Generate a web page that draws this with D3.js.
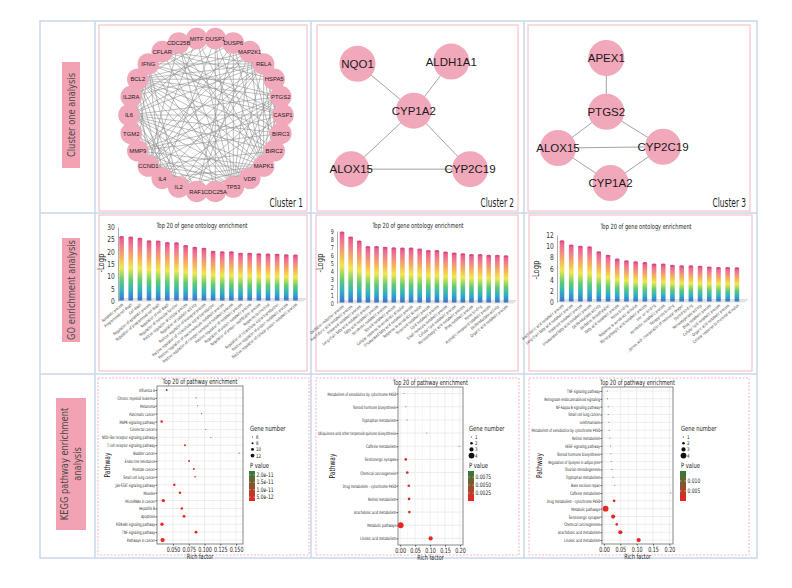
<!DOCTYPE html>
<html><head><meta charset="utf-8">
<script src="https://cdn.jsdelivr.net/npm/d3@7"></script>
<style>
body{margin:0;background:#fff}
svg{display:block}
</style>
</head><body>
<svg id="c" width="792" height="588"></svg>
<script>
// ---------------- DATA ----------------
const rowLabelLines = [["Cluster one analysis"], ["GO enrichment analysis"], ["KEGG pathway enrichment", "analysis"]];
const clusterTitles = ["Cluster 1", "Cluster 2", "Cluster 3"];

const cluster1Genes = ["MITF","DUSP1","DUSP6","MAP2K1","RELA","HSPA5","PTGS2","CASP1","BIRC3","BIRC2","MAPK1","VDR","TP53","CDC25A","RAF1","IL2","IL4","CCND1","MMP9","TGM2","IL6","IL2RA","BCL2","IFNG","CFLAR","CDC25B"];
// adjacency by index (node:neighbours)
const cluster1Adjacency = [
  "0:3,10,12,17,22,25", "1:3,4,7,10,12,13,16,20,22", "2:3,10,12,14,17,21",
  "3:4,9,10,12,14,17,18,20,22", "4:5,6,7,8,9,10,12,15,16,17,18,20,21,22,23,24",
  "5:7,9,10,12,22,24", "6:7,10,12,15,16,17,18,20,22,23", "7:8,9,10,12,15,18,20,22,23,24",
  "8:9,10,12,18,20,22,24", "9:10,12,17,20,22,24", "10:11,12,13,14,15,16,17,18,20,22,23,25",
  "11:12,17,20,22", "12:13,14,15,17,18,19,20,22,23,24,25", "13:14,17,25", "14:17,18,20,22",
  "15:16,17,18,20,21,22,23", "16:17,18,20,21,22,23", "17:18,20,22,25", "18:19,20,22,23",
  "19:20,22", "20:21,22,23,24", "21:22,23", "22:23,24", "23:24"
];
const cluster2Genes = ["NQO1","ALDH1A1","CYP1A2","ALOX15","CYP2C19"];
const cluster2Edges = [["NQO1","CYP1A2"],["ALDH1A1","CYP1A2"],["CYP1A2","ALOX15"],["CYP1A2","CYP2C19"],["ALOX15","CYP2C19"]];
const cluster3Genes = ["APEX1","PTGS2","ALOX15","CYP2C19","CYP1A2"];
const cluster3Edges = [["APEX1","PTGS2"],["PTGS2","ALOX15"],["PTGS2","CYP2C19"],["ALOX15","CYP2C19"],["ALOX15","CYP1A2"],["CYP2C19","CYP1A2"]];

const goTitle = "Top 20 of gene ontology enrichment";
const goYLabel = "-Logp";
const go1Terms = ["Apoptotic process","Programmed cell death","Cell death","Regulation of apoptotic process","Regulation of programmed cell death","Regulation of cell death","Regulation of molecular function","Positive regulation of cellular process","Regulation of catalytic activity","Positive regulation of biological process","Positive regulation of intracellular signal transduction","Positive regulation of macromolecule metabolic process","Positive regulation of nitrogen compound metabolic process","Positive regulation of metabolic process","Regulation of protein metabolic process","Regulation of protein modification process","Response to chemical","Regulation of intracellular signal transduction","Positive regulation of protein metabolic process","Positive regulation of cellular protein metabolic process"];
const go1Values = [25.9,25.7,25.2,24.2,24.1,23.5,23.4,22.3,21.6,21.2,20.0,19.8,19.8,19.2,19.2,19.0,18.9,18.8,18.5,18.4];
const go1Ticks = [0,5,10,15,20,25,30];
const go2Terms = ["Oxidation-reduction process","Arachidonic acid metabolic process","Icosanoid metabolic process","Long-chain fatty acid metabolic process","Fatty acid metabolic process","Xenobiotic metabolic process","Steroid metabolic process","Cellular response to xenobiotic stimulus","Unsaturated fatty acid metabolic process","Response to xenobiotic stimulus","Terpenoid metabolic process","Lipid metabolic process","Small molecule metabolic process","Cellular lipid metabolic process","Monocarboxylic acid metabolic process","Drug metabolic process","Heme binding","Aromatic compound catabolic process","Oxidoreductase activity","Organic acid metabolic process"];
const go2Values = [8.8,8.2,7.7,7.0,7.0,6.9,6.85,6.8,6.8,6.7,6.5,6.5,6.3,6.2,6.1,6.0,6.0,5.9,5.9,5.85];
const go2Ticks = [0,1,2,3,4,5,6,7,8,9];
const go3Terms = ["Arachidonic acid metabolic process","Long-chain fatty acid metabolic process","Icosanoid metabolic process","Unsaturated fatty acid metabolic process","Oxidoreductase activity","Oxidative demethylation","Fatty acid metabolic process","Heme binding","Response to xenobiotic stimulus","Monocarboxylic acid metabolic process","Iron ion binding","Xenobiotic metabolic process","Tetrapyrrole binding","...genes, with incorporation of molecular oxygen","Steroid binding","Monooxygenase activity","Drug metabolic process","Cellular lipid metabolic process","Organic acid metabolic process","Cellular response to chemical stimulus"];
const go3Values = [10.9,10.1,9.9,9.8,8.9,8.3,7.6,7.3,7.1,7.0,6.7,6.7,6.5,6.4,6.4,6.3,6.2,6.1,6.1,6.05];
const go3Ticks = [0,2,4,6,8,10,12];

const keggTitle = "Top 20 of pathway enrichment";
const k1Pathways = ["Influenza A","Chronic myeloid leukemia","Melanoma","Pancreatic cancer","MAPK signaling pathway","Colorectal cancer","NOD-like receptor signaling pathway","T cell receptor signaling pathway","Bladder cancer","Endocrine resistance","Prostate cancer","Small cell lung cancer","Jak-STAT signaling pathway","Measles","MicroRNAs in cancer","Hepatitis B","Apoptosis","PI3K-Akt signaling pathway","TNF signaling pathway","Pathways in cancer"];
const k1Rich = [0.040,0.0865,0.089,0.0955,0.032,0.102,0.110,0.069,0.155,0.0755,0.083,0.085,0.052,0.061,0.0346,0.064,0.0675,0.0325,0.0865,0.0335];
const k1Genes = [8,6,6,6,9,6,6,8,6,8,8,7,9,9,11,9,10,11,10,13];
const k1P = [2.25e-11,6e-12,6e-12,6e-12,3e-12,6e-12,6e-12,4e-12,6e-12,4e-12,4e-12,4e-12,3e-12,3e-12,2.5e-12,3e-12,3e-12,2.5e-12,3e-12,2.5e-12];
const k1XTicks = [0.05,0.075,0.1,0.125,0.15];
const k1SizeTicks = [6,8,10,12];
const k1PTicks = [2.0e-11,1.5e-11,1.0e-11,5.0e-12];
const k1PLabels = ["2.0e-11","1.5e-11","1.0e-11","5.0e-12"];

const k2Pathways = ["Metabolism of xenobiotics by cytochrome P450","Steroid hormone biosynthesis","Tryptophan metabolism","Ubiquinone and other terpenoid-quinone biosynthesis","Caffeine metabolism","Serotonergic synapse","Chemical carcinogenesis","Drug metabolism - cytochrome P450","Retinol metabolism","Arachidonic acid metabolism","Metabolic pathways","Linoleic acid metabolism"];
const k2Rich = [0.013,0.019,0.023,0.089,0.197,0.019,0.024,0.029,0.030,0.031,0.002,0.102];
const k2Genes = [1,1,1,1,1,2,2,2,2,2,4,3];
const k2P = [0.0085,0.0078,0.0068,0.0055,0.0030,0.0009,0.0011,0.0013,0.0014,0.0015,0.0003,0.0002];
const k2XTicks = [0,0.05,0.1,0.15,0.2];
const k2SizeTicks = [1,2,3,4];
const k2PTicks = [0.0075,0.0050,0.0025];
const k2PLabels = ["0.0075","0.0050","0.0025"];

const k3Pathways = ["TNF signaling pathway","Retrograde endocannabinoid signaling","NF-kappa B signaling pathway","Small cell lung cancer","Leishmaniasis","Metabolism of xenobiotics by cytochrome P450","Retinol metabolism","VEGF signaling pathway","Steroid hormone biosynthesis","Regulation of lipolysis in adipocytes","Ovarian steroidogenesis","Tryptophan metabolism","Base excision repair","Caffeine metabolism","Drug metabolism - cytochrome P450","Metabolic pathways","Serotonergic synapse","Chemical carcinogenesis","Arachidonic acid metabolism","Linoleic acid metabolism"];
const k3Rich = [0.010,0.011,0.013,0.013,0.015,0.016,0.018,0.020,0.021,0.022,0.024,0.028,0.033,0.204,0.031,0.005,0.028,0.039,0.050,0.106];
const k3Genes = [1,1,1,1,1,1,1,1,1,1,1,1,1,1,2,4,3,2,3,3];
const k3P = [0.0148,0.0145,0.014,0.0135,0.013,0.0125,0.012,0.0115,0.011,0.0105,0.010,0.009,0.008,0.004,0.0016,0.0002,0.0011,0.0012,0.0006,0.0004];
const k3XTicks = [0,0.05,0.1,0.15,0.2];
const k3SizeTicks = [1,2,3,4];
const k3PTicks = [0.010,0.005];
const k3PLabels = ["0.010","0.005"];

// ---------------- STYLE ----------------
const NARROW = '"Liberation Sans Narrow","DejaVu Sans Condensed","Arial Narrow",sans-serif';
const ARIAL = '"Liberation Sans",Arial,sans-serif';
const PINK_NODE = "#f2a8bb";
const PANEL_PINK = "#f1b7c3";
const FRAME = "#c9d6ea";
const SQ = 0.74;

const svg = d3.select("#c");
const defs = svg.append("defs");

function nt(parent, x, y, str, size, opts={}){
  const k = opts.k || SQ;
  const rot = opts.rot ? ` rotate(${opts.rot})` : "";
  return parent.append("text").attr("transform",`translate(${x},${y})${rot} scale(${k},1)`)
    .attr("text-anchor",opts.anchor||"start").attr("font-family",NARROW).attr("font-size",size)
    .attr("fill",opts.fill||"#222").text(str);
}

// ---------------- FRAME ----------------
const fr = svg.append("g").attr("fill","none").attr("stroke",FRAME).attr("stroke-width",1.5);
fr.append("rect").attr("x",40).attr("y",21).attr("width",717).attr("height",537);
[[40,213,757,213],[40,374,757,374],[95,21,95,558],[311,21,311,558],[524,21,524,558]].forEach(l=>{
  fr.append("line").attr("x1",l[0]).attr("y1",l[1]).attr("x2",l[2]).attr("y2",l[3]);
});

const rowBoxes = [[62,62,18,106],[62,238,18,104],[56,398,30,132]];
rowLabelLines.forEach((lines,i)=>{
  const b = rowBoxes[i];
  svg.append("rect").attr("x",b[0]).attr("y",b[1]).attr("width",b[2]).attr("height",b[3]).attr("fill","#f2a2b2");
  const cx = b[0]+b[2]/2, cy = b[1]+b[3]/2;
  lines.forEach((ln,j)=>{
    const off = (j-(lines.length-1)/2)*12.5 + 3.5;
    nt(svg, cx+off, cy, ln, 10.3, {rot:-90, anchor:"middle", k:0.9, fill:"#4a4a4a"});
  });
});

function panel(x0,y0,x1,y1,dashed){
  svg.append("rect").attr("x",x0).attr("y",y0).attr("width",x1-x0).attr("height",y1-y0)
    .attr("fill","none").attr("stroke",PANEL_PINK).attr("stroke-width",1)
    .attr("stroke-dasharray",dashed?"2,1.5":null);
}

// ---------------- NETWORKS ----------------
function clusterLabel(txt,x,y){
  nt(svg, x, y, txt, 12.5, {anchor:"end", k:0.66, fill:"#222"});
}
panel(99,25,307,211);
(function(){
  const g = svg.append("g");
  const n = cluster1Genes.length;
  const ang = d3.scaleLinear().domain([0,n]).range([-Math.PI/2-Math.PI/n, 1.5*Math.PI-Math.PI/n]);
  const cx=206, cy=115, R=77;
  const pos = i => [cx+R*Math.cos(ang(i)), cy+R*Math.sin(ang(i))];
  const edges = [];
  cluster1Adjacency.forEach(s=>{
    const [a,rest] = s.split(":");
    rest.split(",").forEach(b=>edges.push([+a,+b]));
  });
  g.selectAll("line").data(edges).join("line")
    .attr("x1",d=>pos(d[0])[0]).attr("y1",d=>pos(d[0])[1])
    .attr("x2",d=>pos(d[1])[0]).attr("y2",d=>pos(d[1])[1])
    .attr("stroke","#8c8c8c").attr("stroke-width",0.55);
  g.selectAll("circle").data(cluster1Genes).join("circle")
    .attr("cx",(d,i)=>pos(i)[0]).attr("cy",(d,i)=>pos(i)[1]).attr("r",10.8).attr("fill",PINK_NODE);
  g.selectAll("text").data(cluster1Genes).join("text")
    .attr("x",(d,i)=>pos(i)[0]).attr("y",(d,i)=>pos(i)[1]+2.2)
    .attr("text-anchor","middle").attr("font-family",ARIAL).attr("font-size",5.9).attr("fill","#222").text(d=>d);
})();
clusterLabel(clusterTitles[0],303,207);

function smallNet(genes, edges, layout, x0,y0,x1,y1){
  const sx = d3.scaleLinear().domain([0,1]).range([x0,x1]);
  const sy = d3.scaleLinear().domain([0,1]).range([y0,y1]);
  const p = name => [sx(layout[name][0]), sy(layout[name][1])];
  const g = svg.append("g");
  g.selectAll("line").data(edges).join("line")
    .attr("x1",d=>p(d[0])[0]).attr("y1",d=>p(d[0])[1]).attr("x2",d=>p(d[1])[0]).attr("y2",d=>p(d[1])[1])
    .attr("stroke","#8a8a8a").attr("stroke-width",0.8);
  g.selectAll("circle").data(genes).join("circle")
    .attr("cx",d=>p(d)[0]).attr("cy",d=>p(d)[1]).attr("r",18).attr("fill",PINK_NODE);
  g.selectAll("text").data(genes).join("text")
    .attr("x",d=>p(d)[0]).attr("y",d=>p(d)[1]+4)
    .attr("text-anchor","middle").attr("font-family",ARIAL).attr("font-size",11.5).attr("fill","#1a1a1a").text(d=>d);
}
panel(317,25,518,211);
smallNet(cluster2Genes, cluster2Edges,
  {NQO1:[0.1,0.05],ALDH1A1:[0.85,0.03],CYP1A2:[0.55,0.45],ALOX15:[0.05,0.95],CYP2C19:[1,0.95]},
  345,58,470,175);
clusterLabel(clusterTitles[1],514,207);
panel(528,25,750,211);
smallNet(cluster3Genes, cluster3Edges,
  {APEX1:[0.46,0],PTGS2:[0.46,0.43],ALOX15:[0,0.72],CYP2C19:[1,0.71],CYP1A2:[0.5,1]},
  558,58,663,183);
clusterLabel(clusterTitles[2],746,207);

// ---------------- GO BARS ----------------
const grad = defs.append("linearGradient").attr("id","barGrad").attr("x1",0).attr("y1",1).attr("x2",0).attr("y2",0);
[[0,"#3f6fd0"],[0.16,"#2fb1c4"],[0.32,"#5fcb73"],[0.52,"#f1e84a"],[0.68,"#f6b15b"],[0.86,"#f07d90"],[1,"#e7578b"]]
  .forEach(s=>grad.append("stop").attr("offset",s[0]).attr("stop-color",s[1]));

function goChart(cfg){
  const {terms, values, ticks, axisX, yTop, yBot, bandStart, bandEnd, titleX, titleY, ylabX, ylabY, panelBox, tickFont} = cfg;
  panel(...panelBox);
  const g = svg.append("g");
  const x = d3.scaleBand().domain(terms).range([bandStart,bandEnd]);
  const y = d3.scaleLinear().domain([0,d3.max(ticks)]).range([yBot,yTop]);
  const bw = 4.6;
  g.append("path").attr("d",`M${axisX},${yBot} L${bandEnd+3},${yBot} L${bandEnd+6},${yBot-2.5} L${axisX+3},${yBot-2.5}Z`)
    .attr("fill","#e6e6e6").attr("stroke","#c8c8c8").attr("stroke-width",0.5);
  const ax = g.append("g").attr("transform",`translate(${axisX},0)`)
    .call(d3.axisLeft(y).tickValues(ticks).tickSize(0).tickPadding(4));
  ax.select(".domain").attr("stroke","#999").attr("stroke-width",0.8);
  ax.selectAll("text").attr("font-family",NARROW).attr("font-size",tickFont).attr("fill","#333").attr("transform","scale(0.8,1)");
  const bars = g.selectAll("g.bar").data(terms).join("g").attr("class","bar");
  bars.append("rect").attr("x",d=>x(d)+x.bandwidth()/2-bw/2).attr("width",bw)
    .attr("y",(d,i)=>y(values[i])).attr("height",(d,i)=>yBot-y(values[i])-0.5).attr("fill","url(#barGrad)");
  bars.append("ellipse").attr("cx",d=>x(d)+x.bandwidth()/2).attr("cy",(d,i)=>y(values[i]))
    .attr("rx",bw/2).attr("ry",1).attr("fill","#d64a7e");
  terms.forEach(t=>{
    nt(g, x(t)+x.bandwidth()/2+2, yBot+4, t, 4.1, {rot:-40, anchor:"end", k:0.82, fill:"#333"});
  });
  nt(g, titleX, titleY, goTitle, 7.2, {anchor:"middle", k:0.78});
  nt(g, ylabX, ylabY, goYLabel, 9, {rot:-90, anchor:"middle", k:0.85});
}
goChart({terms:go1Terms, values:go1Values, ticks:go1Ticks, axisX:118, yTop:227, yBot:301, bandStart:117, bandEnd:300,
  titleX:202, titleY:228, ylabX:104, ylabY:263, panelBox:[99,215,307,371], tickFont:8.2});
goChart({terms:go2Terms, values:go2Values, ticks:go2Ticks, axisX:337, yTop:231, yBot:303, bandStart:337.7, bandEnd:510.3,
  titleX:418, titleY:228, ylabX:323, ylabY:263, panelBox:[316,215,518,371], tickFont:6.8});
goChart({terms:go3Terms, values:go3Values, ticks:go3Ticks, axisX:557, yTop:235, yBot:302, bandStart:557.4, bandEnd:741.5,
  titleX:646, titleY:229, ylabX:539, ylabY:270, panelBox:[529,215,752,371], tickFont:8.2});

// ---------------- KEGG DOT PLOTS ----------------
function kegg(cfg){
  const {paths, rich, genes, pvals, xTicks, xFmt, xDomain, plot, panelBox, sizeTicks, rRange, pTicks, pLabels, pDomain, lx, ylabX, titleY} = cfg;
  panel(...panelBox, true);
  const [L,T,R,B] = plot;
  const g = svg.append("g");
  const x = d3.scaleLinear().domain(xDomain).range([L,R]);
  const y = d3.scalePoint().domain(paths).range([T,B]).padding(0.5);
  const r = d3.scaleLinear().domain([d3.min(sizeTicks), d3.max(sizeTicks)]).range(rRange);
  const col = d3.scaleLinear().domain(pDomain).range(["#ec2424","#2f7d35"]).interpolate(d3.interpolateRgb);
  g.append("rect").attr("x",L).attr("y",T).attr("width",R-L).attr("height",B-T).attr("fill","#fff");
  const minor = [];
  for(let i=0;i<xTicks.length-1;i++) minor.push((xTicks[i]+xTicks[i+1])/2);
  const step = xTicks[1]-xTicks[0];
  minor.push(xTicks[0]-step/2, xTicks[xTicks.length-1]+step/2);
  g.selectAll("line.mn").data(minor.filter(v=>x(v)>L&&x(v)<R)).join("line").attr("class","mn")
    .attr("x1",d=>x(d)).attr("x2",d=>x(d)).attr("y1",T).attr("y2",B).attr("stroke","#f0f0f0").attr("stroke-width",0.5);
  g.selectAll("line.mx").data(xTicks).join("line").attr("class","mx")
    .attr("x1",d=>x(d)).attr("x2",d=>x(d)).attr("y1",T).attr("y2",B).attr("stroke","#e2e2e2").attr("stroke-width",0.6);
  g.selectAll("line.my").data(paths).join("line").attr("class","my")
    .attr("x1",L).attr("x2",R).attr("y1",d=>y(d)).attr("y2",d=>y(d)).attr("stroke","#e2e2e2").attr("stroke-width",0.6);
  g.append("rect").attr("x",L).attr("y",T).attr("width",R-L).attr("height",B-T).attr("fill","none").attr("stroke","#6a6a6a").attr("stroke-width",0.8);
  const xa = g.append("g").attr("transform",`translate(0,${B})`).call(d3.axisBottom(x).tickValues(xTicks).tickFormat(d3.format(xFmt)).tickSize(1.5).tickPadding(1.5));
  xa.select(".domain").remove();
  xa.selectAll("line").attr("stroke","#555");
  xa.selectAll("text").attr("font-family",NARROW).attr("font-size",7.2).attr("fill","#222").attr("transform",`scale(${SQ},1)`);
  const ya = g.append("g").attr("transform",`translate(${L},0)`).call(d3.axisLeft(y).tickSize(1.5).tickPadding(1.3));
  ya.select(".domain").remove();
  ya.selectAll("line").attr("stroke","#555");
  ya.selectAll("text").attr("font-family",NARROW).attr("font-size",4.6).attr("fill","#222").attr("transform","scale(0.7,1)");
  g.selectAll("circle.pt").data(paths).join("circle").attr("class","pt")
    .attr("cx",(d,i)=>x(rich[i])).attr("cy",d=>y(d)).attr("r",(d,i)=>r(genes[i])).attr("fill",(d,i)=>col(pvals[i]));
  nt(g, (L+R)/2, titleY, keggTitle, 7.4, {anchor:"middle"});
  nt(g, (L+R)/2, B+15, "Rich factor", 7.4, {anchor:"middle"});
  nt(g, ylabX, (T+B)/2, "Pathway", 8.2, {rot:-90, anchor:"middle", k:0.8});
  const lg = g.append("g");
  nt(lg, lx, 431, "Gene number", 7.2, {k:0.8});
  sizeTicks.forEach((v,i)=>{
    const yy = 437+i*6.2;
    lg.append("circle").attr("cx",lx+2.5).attr("cy",yy).attr("r",r(v)).attr("fill","#111");
    nt(lg, lx+6, yy+1.9, v, 5.2, {k:0.85});
  });
  nt(lg, lx, 468, "P value", 7.2, {k:0.8});
  const gid = "pg"+Math.round(lx);
  const pg = defs.append("linearGradient").attr("id",gid).attr("x1",0).attr("y1",1).attr("x2",0).attr("y2",0);
  d3.range(0,1.01,0.1).forEach(t=>pg.append("stop").attr("offset",t).attr("stop-color",col(pDomain[0]+t*(pDomain[1]-pDomain[0]))));
  const cy = d3.scaleLinear().domain(pDomain).range([501,471]);
  lg.append("rect").attr("x",lx-1).attr("y",471).attr("width",6).attr("height",30).attr("fill",`url(#${gid})`);
  pTicks.forEach((v,i)=>{
    lg.append("line").attr("x1",lx-1).attr("x2",lx+0.5).attr("y1",cy(v)).attr("y2",cy(v)).attr("stroke","#fff").attr("stroke-width",0.5);
    lg.append("line").attr("x1",lx+3.5).attr("x2",lx+5).attr("y1",cy(v)).attr("y2",cy(v)).attr("stroke","#fff").attr("stroke-width",0.5);
    nt(lg, lx+6.5, cy(v)+2, pLabels[i], 6.2, {k:0.8});
  });
}
kegg({paths:k1Pathways, rich:k1Rich, genes:k1Genes, pvals:k1P, xTicks:k1XTicks, xFmt:".3f", xDomain:[0.0246,0.161],
  plot:[157,386,243,544], panelBox:[98,378,309,555], sizeTicks:k1SizeTicks, rRange:[0.55,1.9],
  pTicks:k1PTicks, pLabels:k1PLabels, pDomain:[2.4e-12,2.26e-11], lx:250, ylabX:110, titleY:384});
kegg({paths:k2Pathways, rich:k2Rich, genes:k2Genes, pvals:k2P, xTicks:k2XTicks, xFmt:".2f", xDomain:[-0.007,0.21],
  plot:[398,387,463,545], panelBox:[316,378,519,555], sizeTicks:k2SizeTicks, rRange:[0.5,2.9],
  pTicks:k2PTicks, pLabels:k2PLabels, pDomain:[0.00003,0.0094], lx:469, ylabX:335, titleY:384.5});
kegg({paths:k3Pathways, rich:k3Rich, genes:k3Genes, pvals:k3P, xTicks:k3XTicks, xFmt:".2f", xDomain:[-0.006,0.211],
  plot:[602,387,673,544], panelBox:[529,378,749,555], sizeTicks:k3SizeTicks, rRange:[0.5,2.9],
  pTicks:k3PTicks, pLabels:k3PLabels, pDomain:[0,0.015], lx:681, ylabX:542, titleY:384.5});
</script>
</body></html>
